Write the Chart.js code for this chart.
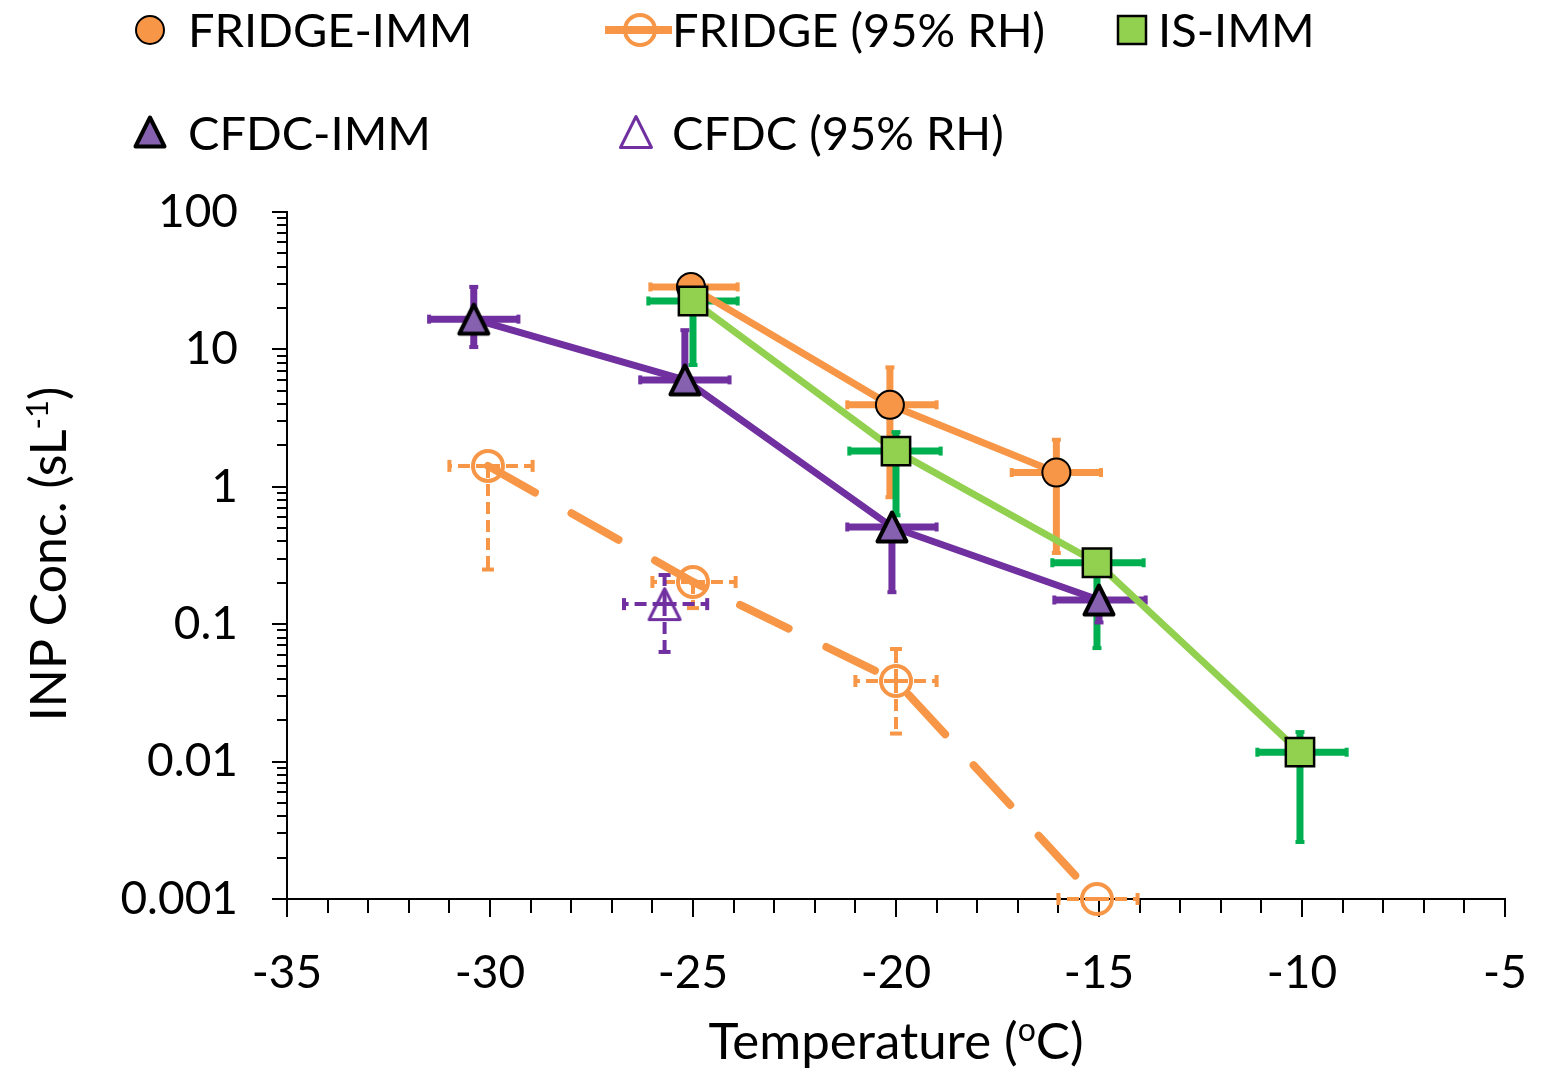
<!DOCTYPE html>
<html>
<head>
<meta charset="utf-8">
<script src="https://cdn.jsdelivr.net/npm/chart.js@4.4.1/dist/chart.umd.min.js"></script>
<style>
  html, body { margin: 0; padding: 0; background: #fff; }
  #wrap { width: 1549px; height: 1070px; position: relative; }
</style>
</head>
<body>
<div id="wrap"><canvas id="inp-chart"></canvas></div>
<script>
// values: temperature (deg C) and INP conc. (per std litre)
// each point also has its error range (low/high) on both axes

const fridgeImmT = [-25.05, -20.15, -16.05];
const fridgeImmC = [28.5, 3.95, 1.27];
const fridgeImmTLow = [-26.05, -21.2, -17.15];
const fridgeImmTHigh = [-23.9, -19.0, -14.95];
const fridgeImmCLow = [24, 0.84, 0.33];
const fridgeImmCHigh = [28.5, 7.4, 2.2];

const fridgeRhT = [-30.05, -25.0, -20.0, -15.05];
const fridgeRhC = [1.42, 0.203, 0.0386, 0.001];
const fridgeRhTLow = [-31.0, -26.0, -21.0, -16.0];
const fridgeRhTHigh = [-28.95, -23.95, -19.0, -14.05];
const fridgeRhCLow = [0.25, 0.131, 0.016, 0.001];
const fridgeRhCHigh = [1.42, 0.203, 0.066, 0.001];

const isImmT = [-25.0, -20.0, -15.05, -10.05];
const isImmC = [22.5, 1.82, 0.28, 0.0117];
const isImmTLow = [-26.1, -21.15, -16.15, -11.1];
const isImmTHigh = [-23.9, -18.9, -13.9, -8.9];
const isImmCLow = [7.7, 0.62, 0.067, 0.0026];
const isImmCHigh = [25, 2.5, 0.28, 0.0164];

const cfdcImmT = [-30.4, -25.2, -20.1, -15.0];
const cfdcImmC = [16.6, 6.0, 0.51, 0.15];
const cfdcImmTLow = [-31.5, -26.3, -21.2, -16.1];
const cfdcImmTHigh = [-29.3, -24.1, -19.0, -13.85];
const cfdcImmCLow = [10.4, 6.0, 0.171, 0.103];
const cfdcImmCHigh = [28.5, 13.8, 0.51, 0.15];

const cfdcRhT = [-25.7];
const cfdcRhC = [0.14];
const cfdcRhTLow = [-26.7];
const cfdcRhTHigh = [-24.65];
const cfdcRhCLow = [0.0628];
const cfdcRhCHigh = [0.228];

const xTickLabels = [-35, -30, -25, -20, -15, -10, -5];
const yTickLabels = [0.001, 0.01, 0.1, 1, 10, 100];

const ORANGE = '#F79646';
const GREEN_LINE = '#92D050';
const GREEN_BAR = '#00B050';
const PURPLE = '#7030A0';
const PURPLE_FILL = '#8561B0';
const FONT = "Lato, 'Open Sans', sans-serif";

function toPoints(xs, ys) {
  return xs.map((x, i) => ({ x: x, y: ys[i] }));
}

// triangle markers as small canvases so they sit centred on the point like Excel's
function makeTriangle(fill, stroke, lw, half) {
  const c = document.createElement('canvas');
  c.width = 44; c.height = 44;
  const g = c.getContext('2d');
  g.beginPath();
  g.moveTo(22, 22 - half);
  g.lineTo(22 + half, 22 + half);
  g.lineTo(22 - half, 22 + half);
  g.closePath();
  g.fillStyle = fill;
  g.fill();
  g.lineWidth = lw;
  g.lineJoin = 'round';
  g.strokeStyle = stroke;
  g.stroke();
  return c;
}
const triFilled = makeTriangle(PURPLE_FILL, '#000', 4, 14.5);
const triOpen = makeTriangle('rgba(0,0,0,0)', PURPLE, 3, 15.5);

// x ticks every degree, y ticks at 1..9 of each decade
const xTickValues = [];
for (let v = -35; v <= -5; v++) xTickValues.push(v);
const yTickValues = [];
for (let e = -3; e < 2; e++) {
  for (let m = 1; m < 10; m++) yTickValues.push(m * Math.pow(10, e));
}
yTickValues.push(100);

function isDecade(v) {
  const l = Math.log10(v);
  return Math.abs(l - Math.round(l)) < 1e-9;
}

const axisTicksPlugin = {
  id: 'axisTicks',
  beforeDatasetsDraw(chart) {
    const ctx = chart.ctx;
    const xs = chart.scales.x, ys = chart.scales.y;
    const area = chart.chartArea;
    ctx.save();
    ctx.strokeStyle = '#000';
    ctx.lineWidth = 2;
    ctx.beginPath();
    yTickValues.forEach(v => {
      const py = Math.round(ys.getPixelForValue(v));
      const len = isDecade(v) ? 15 : 10;
      ctx.moveTo(area.left - len, py);
      ctx.lineTo(area.left, py);
    });
    xTickValues.forEach(v => {
      const px = Math.round(xs.getPixelForValue(v));
      const len = v % 5 === 0 ? 18 : 14;
      ctx.moveTo(px, area.bottom);
      ctx.lineTo(px, area.bottom + len);
    });
    ctx.stroke();
    ctx.restore();
  }
};

const errorBarPlugin = {
  id: 'errorBars',
  beforeDatasetsDraw(chart) {
    const ctx = chart.ctx;
    const xs = chart.scales.x, ys = chart.scales.y;
    const sets = chart.data.datasets.slice().sort((a, b) => b.order - a.order);
    sets.forEach(ds => {
      const eb = ds.errorBars;
      if (!eb) return;
      ctx.save();
      ctx.strokeStyle = eb.color;
      ctx.lineWidth = eb.width;
      ctx.lineCap = 'butt';
      const seg = (x1, y1, x2, y2) => {
        ctx.setLineDash(eb.dash);
        ctx.beginPath();
        ctx.moveTo(x1, y1);
        ctx.lineTo(x2, y2);
        ctx.stroke();
      };
      const cap = (x, y, horiz) => {
        ctx.setLineDash([]);
        ctx.lineWidth = eb.capWidth;
        ctx.beginPath();
        if (horiz) { ctx.moveTo(x - eb.cap / 2, y); ctx.lineTo(x + eb.cap / 2, y); }
        else { ctx.moveTo(x, y - eb.cap / 2); ctx.lineTo(x, y + eb.cap / 2); }
        ctx.stroke();
        ctx.lineWidth = eb.width;
      };
      ds.data.forEach((p, i) => {
        const px = xs.getPixelForValue(p.x);
        const py = ys.getPixelForValue(p.y);
        const xl = xs.getPixelForValue(eb.tLow[i]);
        const xh = xs.getPixelForValue(eb.tHigh[i]);
        const yl = ys.getPixelForValue(eb.cLow[i]);
        const yh = ys.getPixelForValue(eb.cHigh[i]);
        seg(px, py, xl, py); cap(xl, py, false);
        seg(px, py, xh, py); cap(xh, py, false);
        if (Math.abs(yl - py) > 1) { seg(px, py, px, yl); cap(px, yl, true); }
        if (Math.abs(yh - py) > 1) { seg(px, py, px, yh); cap(px, yh, true); }
      });
      ctx.restore();
    });
  }
};

// draws text made of normal and superscript pieces, centred on cx
function drawRichText(ctx, parts, cx, baseY, size) {
  const supSize = Math.round(size * 0.62);
  let total = 0;
  parts.forEach(p => {
    ctx.font = (p.sup ? supSize : size) + 'px ' + FONT;
    p.w = ctx.measureText(p.t).width;
    total += p.w;
  });
  let x = cx - total / 2;
  ctx.textAlign = 'left';
  ctx.textBaseline = 'alphabetic';
  parts.forEach(p => {
    ctx.font = (p.sup ? supSize : size) + 'px ' + FONT;
    ctx.fillText(p.t, x, p.sup ? baseY - size * 0.36 : baseY);
    x += p.w;
  });
}

const titlesPlugin = {
  id: 'axisTitles',
  afterDraw(chart) {
    const ctx = chart.ctx;
    ctx.save();
    ctx.fillStyle = '#000';
    drawRichText(ctx, [{ t: 'Temperature (' }, { t: 'o', sup: true }, { t: 'C)' }], 896, 1059, 51);
    ctx.translate(66, 554);
    ctx.rotate(-Math.PI / 2);
    drawRichText(ctx, [{ t: 'INP Conc. (sL' }, { t: '-1', sup: true }, { t: ')' }], 0, 0, 50);
    ctx.restore();
  }
};

const legendPlugin = {
  id: 'topLegend',
  afterDraw(chart) {
    const ctx = chart.ctx;
    ctx.save();
    ctx.font = '47px ' + FONT;
    ctx.fillStyle = '#000';
    ctx.textAlign = 'left';
    ctx.textBaseline = 'alphabetic';

    // FRIDGE-IMM
    ctx.beginPath();
    ctx.arc(150, 30, 14, 0, Math.PI * 2);
    ctx.fillStyle = ORANGE; ctx.fill();
    ctx.lineWidth = 2; ctx.strokeStyle = '#000'; ctx.stroke();
    ctx.fillStyle = '#000';
    ctx.fillText('FRIDGE-IMM', 188, 47);

    // FRIDGE (95% RH)
    ctx.beginPath();
    ctx.moveTo(605, 30); ctx.lineTo(672, 30);
    ctx.lineWidth = 8; ctx.strokeStyle = ORANGE; ctx.stroke();
    ctx.beginPath();
    ctx.arc(640, 30, 15, 0, Math.PI * 2);
    ctx.lineWidth = 4; ctx.stroke();
    ctx.fillText('FRIDGE (95% RH)', 672, 47);

    // IS-IMM
    ctx.fillStyle = GREEN_LINE;
    ctx.fillRect(1118, 16, 28, 28);
    ctx.lineWidth = 2.5; ctx.strokeStyle = '#000';
    ctx.strokeRect(1118, 16, 28, 28);
    ctx.fillStyle = '#000';
    ctx.fillText('IS-IMM', 1158, 47);

    // CFDC-IMM
    ctx.drawImage(triFilled, 150 - 22, 132 - 22);
    ctx.fillText('CFDC-IMM', 188, 150);

    // CFDC (95% RH)
    ctx.drawImage(triOpen, 636 - 22, 132 - 22);
    ctx.fillText('CFDC (95% RH)', 672, 150);
    ctx.restore();
  }
};

const datasets = [
  {
    label: 'FRIDGE (95% RH)',
    data: toPoints(fridgeRhT, fridgeRhC),
    order: 5,
    borderColor: ORANGE,
    borderWidth: 8,
    borderDash: [54, 42],
    borderCapStyle: 'round',
    pointStyle: 'circle',
    pointRadius: 15,
    pointBorderWidth: 4,
    pointBorderColor: ORANGE,
    pointBackgroundColor: 'rgba(0,0,0,0)',
    errorBars: { tLow: fridgeRhTLow, tHigh: fridgeRhTHigh, cLow: fridgeRhCLow, cHigh: fridgeRhCHigh,
      color: ORANGE, width: 4, dash: [12, 6], cap: 12, capWidth: 4 }
  },
  {
    label: 'CFDC (95% RH)',
    data: toPoints(cfdcRhT, cfdcRhC),
    order: 4,
    showLine: false,
    borderColor: PURPLE,
    pointStyle: triOpen,
    pointRadius: 18,
    errorBars: { tLow: cfdcRhTLow, tHigh: cfdcRhTHigh, cLow: cfdcRhCLow, cHigh: cfdcRhCHigh,
      color: PURPLE, width: 4, dash: [12, 6], cap: 12, capWidth: 4 }
  },
  {
    label: 'FRIDGE-IMM',
    data: toPoints(fridgeImmT, fridgeImmC),
    order: 3,
    borderColor: ORANGE,
    borderWidth: 7,
    pointStyle: 'circle',
    pointRadius: 14,
    pointBorderWidth: 2,
    pointBorderColor: '#000',
    pointBackgroundColor: ORANGE,
    errorBars: { tLow: fridgeImmTLow, tHigh: fridgeImmTHigh, cLow: fridgeImmCLow, cHigh: fridgeImmCHigh,
      color: ORANGE, width: 7, dash: [], cap: 9, capWidth: 4 }
  },
  {
    label: 'IS-IMM',
    data: toPoints(isImmT, isImmC),
    order: 2,
    borderColor: GREEN_LINE,
    borderWidth: 7,
    pointStyle: 'rect',
    pointRadius: 20,
    pointBorderWidth: 2.5,
    pointBorderColor: '#000',
    pointBackgroundColor: GREEN_LINE,
    errorBars: { tLow: isImmTLow, tHigh: isImmTHigh, cLow: isImmCLow, cHigh: isImmCHigh,
      color: GREEN_BAR, width: 7, dash: [], cap: 9, capWidth: 4 }
  },
  {
    label: 'CFDC-IMM',
    data: toPoints(cfdcImmT, cfdcImmC),
    order: 1,
    borderColor: PURPLE,
    borderWidth: 7,
    pointStyle: triFilled,
    pointRadius: 18,
    errorBars: { tLow: cfdcImmTLow, tHigh: cfdcImmTHigh, cLow: cfdcImmCLow, cHigh: cfdcImmCHigh,
      color: PURPLE, width: 7, dash: [], cap: 9, capWidth: 4 }
  }
];
datasets.forEach(ds => { ds.clip = false; ds.tension = 0; ds.fill = false; });

new Chart(document.getElementById('inp-chart'), {
  type: 'scatter',
  data: { datasets: datasets },
  plugins: [axisTicksPlugin, errorBarPlugin, titlesPlugin, legendPlugin],
  options: {
    responsive: true,
    maintainAspectRatio: false,
    animation: false,
    events: [],
    layout: { padding: { top: 212, right: 44, left: 0, bottom: 0 } },
    plugins: { legend: { display: false }, tooltip: { enabled: false } },
    showLine: true,
    scales: {
      x: {
        type: 'linear',
        min: -35,
        max: -5,
        grid: { display: false },
        border: { display: true, color: '#000', width: 2 },
        afterBuildTicks: s => { s.ticks = xTickValues.map(v => ({ value: v })); },
        afterFit: s => { s.height = 171; s.paddingLeft = 0; s.paddingRight = 0; },
        ticks: {
          autoSkip: false,
          maxRotation: 0,
          padding: 39,
          color: '#000',
          font: { family: FONT, size: 46 },
          callback: v => xTickLabels.includes(v) ? String(v) : ''
        }
      },
      y: {
        type: 'logarithmic',
        min: 0.001,
        max: 100,
        grid: { display: false },
        border: { display: true, color: '#000', width: 2 },
        afterBuildTicks: s => { s.ticks = yTickValues.map(v => ({ value: v })); },
        afterFit: s => { s.width = 287; s.paddingTop = 0; s.paddingBottom = 0; },
        ticks: {
          autoSkip: false,
          padding: 41,
          color: '#000',
          font: { family: FONT, size: 46 },
          callback: v => {
            const hit = yTickLabels.find(t => Math.abs(t - v) < t * 1e-6);
            return hit !== undefined ? String(hit) : '';
          }
        }
      }
    }
  }
});
</script>
</body>
</html>
